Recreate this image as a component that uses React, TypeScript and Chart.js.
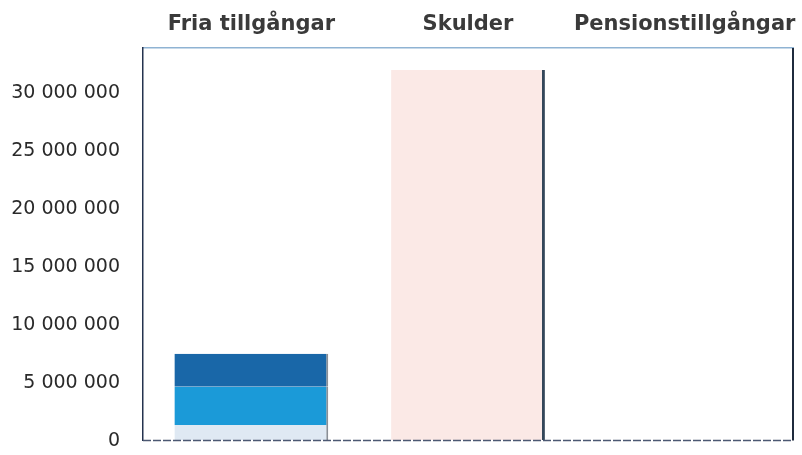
import React, { useEffect, useRef } from "react";
import { Chart, registerables } from "chart.js";

Chart.register(...registerables);

const categories = ["Fria tillgångar", "Skulder", "Pensionstillgångar"];
const friaLight = [1350000, 0, 0];
const friaMedium = [3300000, 0, 0];
const friaDark = [2850000, 0, 0];
const skulder = [0, 32000000, 0];
const yTicks = [0, 5000000, 10000000, 15000000, 20000000, 25000000, 30000000];
const yMax = 33900000;

const fmt = (v: number) => {
  const s = Math.round(v).toString();
  return s.replace(/\B(?=(\d{3})+(?!\d))/g, " ");
};

const frame = {
  id: "frame",
  afterDraw(chart: any) {
    const { ctx, chartArea: a } = chart;
    ctx.save();
    ctx.lineWidth = 2;
    ctx.strokeStyle = "#1f2b3d";
    ctx.beginPath();
    ctx.moveTo(a.right, a.top);
    ctx.lineTo(a.right, a.bottom);
    ctx.stroke();
    ctx.lineWidth = 1.5;
    ctx.strokeStyle = "#4c5872";
    ctx.setLineDash([8, 2]);
    ctx.beginPath();
    ctx.moveTo(a.left, a.bottom);
    ctx.lineTo(a.right, a.bottom);
    ctx.stroke();
    ctx.restore();
  },
};

export default function App() {
  const ref = useRef<HTMLCanvasElement | null>(null);
  useEffect(() => {
    if (!ref.current) return;
    const friaBorder = { top: 0, right: 2, bottom: 0, left: 0 };
    const chart = new Chart(ref.current, {
      type: "bar",
      data: {
        labels: categories,
        datasets: [
          { label: "light", data: friaLight, backgroundColor: "#dfe9f3", borderColor: "#8a8f96", borderWidth: friaBorder, borderSkipped: false },
          { label: "medium", data: friaMedium, backgroundColor: "#1b9ad8", borderColor: "#8a8f96", borderWidth: friaBorder, borderSkipped: false },
          { label: "dark", data: friaDark, backgroundColor: "#1967a8", borderColor: "#8a8f96", borderWidth: friaBorder, borderSkipped: false },
          { label: "skulder", data: skulder, backgroundColor: "#fbe9e6", borderColor: "#34475a", borderWidth: { top: 0, right: 3, bottom: 0, left: 0 }, borderSkipped: false },
        ],
      },
      plugins: [frame],
      options: {
        animation: false,
        responsive: true,
        maintainAspectRatio: false,
        layout: { padding: { left: 0, top: 0, right: 9, bottom: 14 } },
        plugins: { legend: { display: false }, tooltip: { enabled: false } },
        datasets: { bar: { barPercentage: 0.71, categoryPercentage: 1 } },
        scales: {
          x: {
            position: "top",
            stacked: true,
            grid: { display: true, drawOnChartArea: false, drawTicks: true, tickLength: 9, color: "rgba(0,0,0,0)" },
            border: { display: true, color: "#8fb3d3", width: 1.5, dash: [7, 3] },
            ticks: {
              color: "#3a3a3a",
              padding: 2,
              maxRotation: 0,
              minRotation: 0,
              autoSkip: false,
              font: { family: "DejaVu Sans", size: 21, weight: "bold" },
            },
            afterFit: (s: any) => { s.height = 48; },
          },
          y: {
            position: "left",
            stacked: true,
            min: 0,
            max: yMax,
            grid: { display: true, drawOnChartArea: false, drawTicks: true, tickLength: 20, color: "rgba(0,0,0,0)" },
            border: { display: true, color: "#24334f", width: 1.5 },
            ticks: {
              autoSkip: false,
              color: "#2a2a2a",
              padding: 3,
              font: { family: "DejaVu Sans", size: 19 },
              callback: (v: any) => fmt(Number(v)),
            },
            afterBuildTicks: (s: any) => {
              s.ticks = yTicks.map((v) => ({ value: v }));
            },
            afterFit: (s: any) => { s.width = 143; },
          },
        },
      },
    });
    return () => chart.destroy();
  }, []);
  return (
    <div style={{ position: "fixed", left: 0, top: 0, width: 802, height: 455, background: "#fff" }}>
      <canvas ref={ref} />
    </div>
  );
}
